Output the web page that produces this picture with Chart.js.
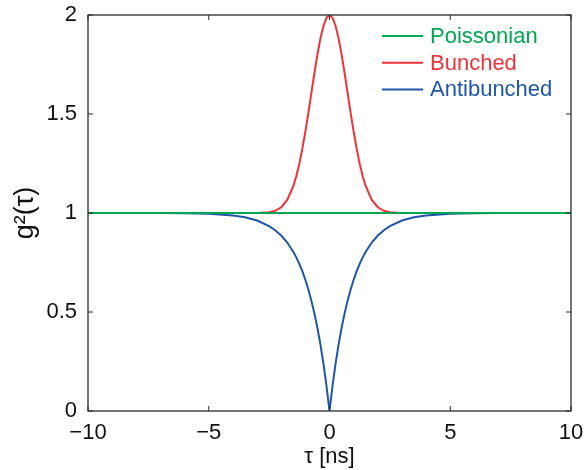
<!DOCTYPE html>
<html>
<head>
<meta charset="utf-8">
<script src="https://cdn.jsdelivr.net/npm/chart.js@4"></script>
<style>
  html, body { margin: 0; padding: 0; background: #fff; }
  #wrap { width: 587px; height: 470px; }
</style>
</head>
<body>
<div id="wrap"><canvas id="chartG2"></canvas></div>
<script>
// series names and colours (legend order)
const seriesNames = ['Poissonian', 'Bunched', 'Antibunched'];
const seriesColors = ['#00a650', '#ee3338', '#1f56a8'];

// Poissonian: flat line
const tauPoisson = [-10, 10];
const gPoisson = [1, 1];

// Bunched: peak at tau = 0
const tauBunched = [-10, -3, -2.5, -2.25, -2, -1.75, -1.5, -1.375, -1.25, -1.125, -1, -0.875, -0.75, -0.625, -0.5, -0.375, -0.25, -0.125,
  0, 0.125, 0.25, 0.375, 0.5, 0.625, 0.75, 0.875, 1, 1.125, 1.25, 1.375, 1.5, 1.75, 2, 2.25, 2.5, 3, 10];
const gBunched = [1, 1, 1.004, 1.011, 1.029, 1.066, 1.135, 1.186, 1.249, 1.325, 1.411, 1.506, 1.607, 1.707, 1.801, 1.882, 1.946, 1.986,
  2, 1.986, 1.946, 1.882, 1.801, 1.707, 1.607, 1.506, 1.411, 1.325, 1.249, 1.186, 1.135, 1.066, 1.029, 1.011, 1.004, 1, 1];

// Antibunched: dip to zero at tau = 0
const tauAnti = [-10, -8, -7, -6, -5, -4, -3.5, -3, -2.5, -2.25, -2, -1.75, -1.5, -1.375, -1.25, -1.125, -1, -0.875, -0.75, -0.625, -0.5, -0.375, -0.25, -0.125,
  0, 0.125, 0.25, 0.375, 0.5, 0.625, 0.75, 0.875, 1, 1.125, 1.25, 1.375, 1.5, 1.75, 2, 2.25, 2.5, 3, 3.5, 4, 5, 6, 7, 8, 10];
const gAnti = [1, 1, 0.9995, 0.9985, 0.996, 0.987, 0.978, 0.962, 0.934, 0.913, 0.886, 0.851, 0.804, 0.776, 0.743, 0.706, 0.663, 0.614, 0.557, 0.493, 0.419, 0.335, 0.238, 0.127,
  0, 0.127, 0.238, 0.335, 0.419, 0.493, 0.557, 0.614, 0.663, 0.706, 0.743, 0.776, 0.804, 0.851, 0.886, 0.913, 0.934, 0.962, 0.978, 0.987, 0.996, 0.9985, 0.9995, 1, 1];

// tick labels
const xTickLabels = ['\u221210', '\u22125', '0', '5', '10'];
const yTickLabels = ['0', '0.5', '1', '1.5', '2'];

const fontFamily = '"Liberation Sans", Arial, Helvetica, sans-serif';
const axisColor = '#2b2b2b';

function toPoints(xs, ys) {
  return xs.map((x, i) => ({ x: x, y: ys[i] }));
}

// box on all four sides, small ticks pointing inward, legend inside top-right
const boxAndLegend = {
  id: 'boxAndLegend',
  afterDatasetsDraw(chart) {
    const ctx = chart.ctx;
    const a = chart.chartArea;
    const xs = chart.scales.x;
    const ys = chart.scales.y;
    const tl = 5;
    ctx.save();
    ctx.strokeStyle = axisColor;
    ctx.lineWidth = 1.3;
    ctx.strokeRect(a.left, a.top, a.right - a.left, a.bottom - a.top);
    ctx.lineWidth = 1;
    xs.ticks.forEach(t => {
      const px = xs.getPixelForValue(t.value);
      ctx.beginPath();
      ctx.moveTo(px, a.bottom); ctx.lineTo(px, a.bottom - tl);
      ctx.moveTo(px, a.top); ctx.lineTo(px, a.top + tl);
      ctx.stroke();
    });
    ys.ticks.forEach(t => {
      const py = ys.getPixelForValue(t.value);
      ctx.beginPath();
      ctx.moveTo(a.left, py); ctx.lineTo(a.left + tl, py);
      ctx.moveTo(a.right, py); ctx.lineTo(a.right - tl, py);
      ctx.stroke();
    });

    // legend
    ctx.font = '22px ' + fontFamily;
    ctx.textBaseline = 'middle';
    ctx.textAlign = 'left';
    seriesNames.forEach((name, i) => {
      const y = 36 + i * 26.7;
      ctx.strokeStyle = seriesColors[i];
      ctx.lineWidth = 2;
      ctx.beginPath();
      ctx.moveTo(382, y);
      ctx.lineTo(423, y);
      ctx.stroke();
      ctx.fillStyle = seriesColors[i];
      ctx.fillText(name, 430, y + 1);
    });
    ctx.restore();
  }
};

new Chart(document.getElementById('chartG2'), {
  type: 'line',
  data: {
    datasets: [
      {
        label: seriesNames[0],
        data: toPoints(tauPoisson, gPoisson),
        borderColor: seriesColors[0],
        borderWidth: 2,
        pointRadius: 0,
        tension: 0,
        order: 0
      },
      {
        label: seriesNames[1],
        data: toPoints(tauBunched, gBunched),
        borderColor: seriesColors[1],
        borderWidth: 2,
        pointRadius: 0,
        tension: 0,
        order: 2
      },
      {
        label: seriesNames[2],
        data: toPoints(tauAnti, gAnti),
        borderColor: seriesColors[2],
        borderWidth: 2,
        pointRadius: 0,
        tension: 0,
        order: 1
      }
    ]
  },
  options: {
    responsive: true,
    maintainAspectRatio: false,
    animation: false,
    layout: { padding: { left: 0, right: 16, top: 15, bottom: 0 } },
    plugins: {
      legend: { display: false },
      tooltip: { enabled: false }
    },
    scales: {
      x: {
        type: 'linear',
        min: -10,
        max: 10,
        afterFit(scale) {
          scale.height = 59;
          scale.paddingLeft = 0;
          scale.paddingRight = 0;
        },
        grid: { display: false, drawTicks: false },
        border: { display: false },
        ticks: {
          stepSize: 5,
          padding: 9,
          color: '#111',
          font: { family: fontFamily, size: 22 },
          maxRotation: 0,
          callback: (v, i) => xTickLabels[i]
        },
        title: {
          display: true,
          text: '\u03c4 [ns]',
          color: '#111',
          font: { family: fontFamily, size: 22 },
          padding: { top: 0, bottom: 0 }
        }
      },
      y: {
        min: 0,
        max: 2,
        afterFit(scale) {
          scale.width = 88;
          scale.paddingTop = 0;
          scale.paddingBottom = 0;
        },
        grid: { display: false, drawTicks: false },
        border: { display: false },
        ticks: {
          stepSize: 0.5,
          padding: 11,
          color: '#111',
          font: { family: fontFamily, size: 22 },
          callback: (v, i) => yTickLabels[i]
        },
        title: {
          display: true,
          text: 'g\u00b2(\u03c4)',
          color: '#111',
          font: { family: fontFamily, size: 27 },
          padding: { top: 9, bottom: 0 }
        }
      }
    }
  },
  plugins: [boxAndLegend]
});
</script>
</body>
</html>
